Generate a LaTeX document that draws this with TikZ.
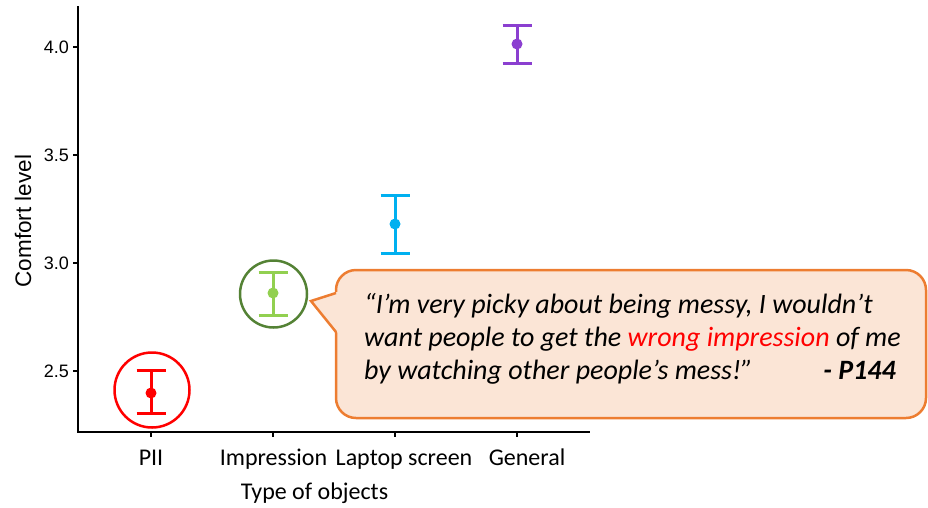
\documentclass[tikz,border=0pt]{standalone}
\usepackage{fontspec}
\setmainfont{Carlito}
\newfontfamily\arialf{Liberation Sans}
\definecolor{cred}{RGB}{255,0,0}
\definecolor{cgreen}{RGB}{146,208,80}
\definecolor{cdkgreen}{RGB}{84,130,53}
\definecolor{cblue}{RGB}{0,176,240}
\definecolor{cpurple}{RGB}{139,63,208}
\definecolor{corange}{RGB}{237,125,49}
\definecolor{cpeach}{RGB}{251,229,214}
\tikzset{
  axisline/.style={line width=1.5pt, black},
  ticklab/.style={font=\arialf\fontsize{18}{20}\selectfont, inner sep=0pt, anchor=east},
  xlab/.style={font=\fontsize{24}{28}\selectfont, inner sep=0pt, anchor=base},
  ebar/.style={line width=3pt},
  hilite/.style={line width=2.5pt},
  quote/.style={font=\itshape\fontsize{28}{33}\selectfont, inner sep=0pt, anchor=base west},
  calloutbox/.style={draw=corange, fill=cpeach, line width=2.5pt, rounded corners=20pt, minimum width=590pt, minimum height=148pt, inner sep=0pt}
}
\newcommand{\errbar}[5]{% colour, x, top, mean, bottom
  \draw[ebar, #1] (#2-14.5,#3) -- (#2+14.5,#3);
  \draw[ebar, #1] (#2-14.5,#5) -- (#2+14.5,#5);
  \draw[ebar, #1] (#2,#3) -- (#2,#5);
  \fill[#1] (#2,#4) circle (5.5pt);
}
\begin{document}
\begin{tikzpicture}[x=1pt,y=-1pt]
\useasboundingbox (0,0) rectangle (928,507);
% axes
\coordinate (otop) at (78,6);
\coordinate (orig) at (78,432);
\coordinate (xend) at (590,432);
\draw[axisline] (otop) -- (orig) -- (xend);
% y ticks
\foreach \v/\y in {4.0/47, 3.5/155, 3.0/263, 2.5/371}{
  \draw[axisline] (73,\y) -- (78,\y);
  \node[ticklab] (yt\y) at (69,\y) {\v};
}
% x ticks
\foreach \x in {151,273,395,517}{
  \draw[axisline] (\x,432) -- (\x,437);
}
\node[xlab] (xt1) at (151,465) {PII};
\node[xlab] (xt2) at (273.5,465) {Impression};
\node[xlab] (xt3) at (404,465) {Laptop screen};
\node[xlab] (xt4) at (527,465) {General};
\node[xlab] (xtitle) at (314.5,499) {Type of objects};
\node[font=\arialf\fontsize{22.5}{24}\selectfont, rotate=90, inner sep=0pt] (ytitle) at (23,221) {Comfort level};
% error bars
\errbar{cred}{151}{370}{393}{413}
\errbar{cgreen}{273}{272}{293}{315}
\errbar{cblue}{395}{195}{224}{253}
\errbar{cpurple}{517}{25}{44}{63}
% highlight circles
\draw[hilite, cred] (152,390) circle (37.5pt);
\draw[hilite, cdkgreen] (273.5,294) circle (33.5pt);
% callout
\node[calloutbox] (box) at (631,344) {};
\coordinate (tip) at (311,301);
\fill[cpeach] (tip) -- (338.5,291.5) -- (338.5,333.5) -- cycle;
\draw[corange, line width=2.5pt, line join=miter] (336,293) -- (tip) -- (336,332);
\node[quote] (q1) at (364,313) {“I’m very picky about being messy, I wouldn’t};
\node[quote] (q2) at (364,346) {want people to get the \textcolor{cred}{wrong impression} of me};
\node[quote] (q3) at (364,379) {by watching other people’s mess!”};
\node[quote, anchor=base east, font=\bfseries\itshape\fontsize{28}{33}\selectfont] (p144) at (896,379) {- P144};
\end{tikzpicture}
\end{document}
